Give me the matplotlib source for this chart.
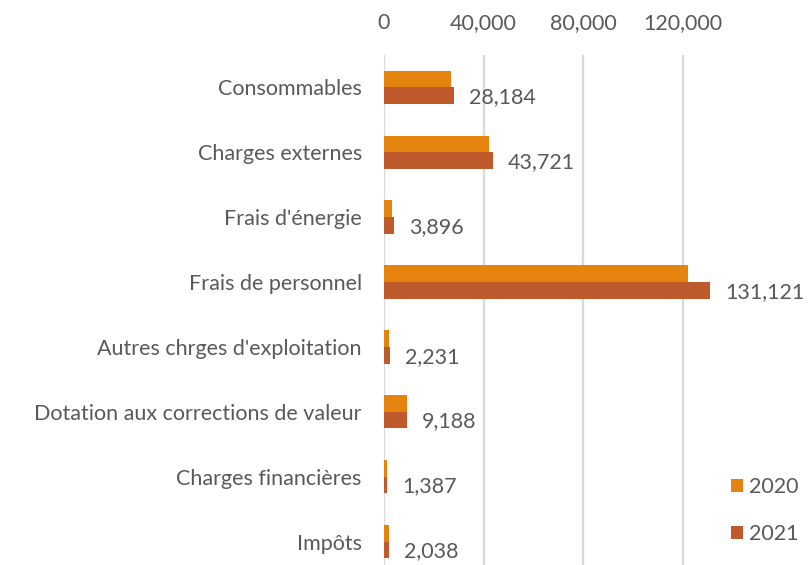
import numpy as np
import matplotlib.pyplot as plt
from matplotlib.ticker import FuncFormatter

categories = ['Consommables', 'Charges externes', "Frais d'énergie", 'Frais de personnel',
              "Autres chrges d'exploitation", 'Dotation aux corrections de valeur',
              'Charges financières', 'Impôts']
v2020 = [27000, 42000, 3400, 122000, 2100, 9100, 1300, 2000]
v2021 = [28184, 43721, 3896, 131121, 2231, 9188, 1387, 2038]
ticks = [0, 40000, 80000, 120000]

c2020 = '#E5830F'
c2021 = '#BE5A2C'
txt = '#595959'
fs = 15.5
plt.rcParams['font.family'] = ['Lato', 'DejaVu Sans']

fig = plt.figure(figsize=(8.11, 5.65), dpi=100)
ax = fig.add_axes([0.4735, -0.016, 0.4297, 0.9188])

y = np.arange(len(categories))
h = 0.257
ax.barh(y - h / 2, v2020, height=h, color=c2020, label='2020')
bars = ax.barh(y + h / 2, v2021, height=h, color=c2021, label='2021')

for b, v in zip(bars, v2021):
    ax.annotate(f'{v:,}', (b.get_width(), b.get_y() + b.get_height() / 2),
                xytext=(11, -1), textcoords='offset points', va='center', ha='left',
                fontsize=fs, color=txt, annotation_clip=False)

ax.set_xlim(0, 140000)
ax.set_ylim(len(categories) - 0.5, -0.5)
ax.set_xticks(ticks)
ax.xaxis.set_major_formatter(FuncFormatter(lambda v, p: f'{int(v):,}'))
ax.xaxis.tick_top()
ax.set_yticks(y)
ax.set_yticklabels(categories)
ax.tick_params(axis='both', length=0, labelsize=fs, labelcolor=txt)
ax.tick_params(axis='x', pad=16)
ax.tick_params(axis='y', pad=16)
ax.grid(axis='x', color='#D9D9D9', linewidth=1.6)
ax.set_axisbelow(True)
for s in ax.spines.values():
    s.set_visible(False)

leg = ax.legend(loc='lower right', bbox_to_anchor=(1.245, 0.02), frameon=False,
                fontsize=fs, labelcolor=txt, handlelength=0.55, handleheight=0.55,
                handletextpad=0.3, labelspacing=1.25)

fig.savefig('out.png', dpi=100)
